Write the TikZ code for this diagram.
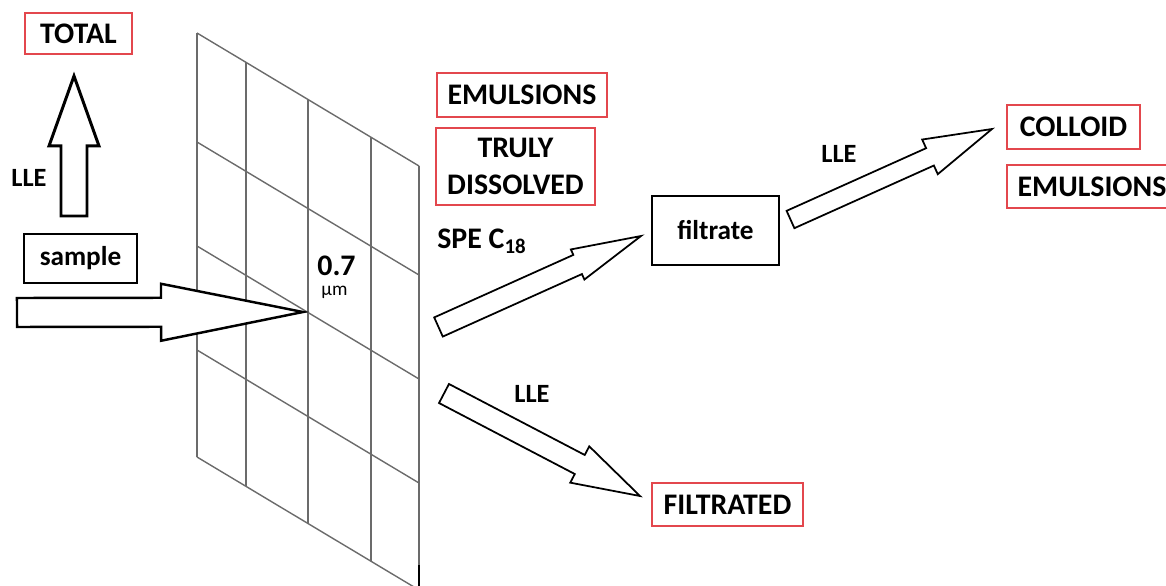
\documentclass[tikz,border=0pt]{standalone}
\usepackage{fontspec}
\setmainfont{Carlito}
\usetikzlibrary{calc}
\definecolor{boxred}{HTML}{E3474D}
\definecolor{gridgray}{HTML}{6B6B6B}
\newcommand{\bigfont}{\fontsize{17}{21}\selectfont\bfseries}
\newcommand{\lowfont}{\fontsize{15.5}{19}\selectfont\bfseries}
\newcommand{\midfont}{\fontsize{15}{18}\selectfont\bfseries}
\newcommand{\smallfont}{\fontsize{11}{13}\selectfont}
\tikzset{
  redbox/.style={draw=boxred, line width=0.8pt, inner sep=0pt, align=center, font=\bigfont},
  blackbox/.style={draw=black, line width=0.7pt, inner sep=0pt, font=\lowfont},
  lbl/.style={inner sep=0pt},
  gridline/.style={gridgray, line width=0.8pt},
  fatarrow/.style={draw=black, fill=white, line width=1pt, line join=miter},
}
% [style]{tail}{tip}{half shaft}{half head}{head length}
\newcommand{\blockarrow}[6][]{%
  \coordinate (ba-h) at ($(#3)!#6!(#2)$);
  \draw[fatarrow,#1] ($(#2)!#4!90:(#3)$) -- ($(ba-h)!#4!90:(#3)$) -- ($(ba-h)!#5!90:(#3)$) -- (#3)
    -- ($(ba-h)!#5!-90:(#3)$) -- ($(ba-h)!#4!-90:(#3)$) -- ($(#2)!#4!-90:(#3)$) -- cycle;
}

\begin{document}
\begin{tikzpicture}[x=0.02cm, y=-0.02cm]
\useasboundingbox (0,0) rectangle (1166,585);
\foreach \gx in {197,246,308,371,419}
\draw[gridline] (\gx,{33+0.6*(\gx-197)}) -- (\gx,{457+0.6*(\gx-197)});
\foreach \gy in {33,142,246,350,457}
\draw[gridline] (197,\gy) -- (419,{\gy+133});
\draw[line width=1pt] (419,565) -- (419,590);

\node[redbox, minimum width=2.14cm, minimum height=0.82cm] (total) at (78.5,33.5) {TOTAL};
\node[blackbox, minimum width=2.26cm, minimum height=0.98cm] (sample) at (80.5,258.5) {sample};
\node[lbl, font=\midfont] (lleup) at (29,178) {LLE};
\node[lbl, font=\bigfont, anchor=base] (pore) at (336.5,275) {0.7};
\node[lbl, font=\smallfont, anchor=base] (unit) at (334.5,295) {µm};

\node[redbox, minimum width=3.4cm, minimum height=0.88cm] (emul) at (522,95) {EMULSIONS};
\node[redbox, minimum width=3.18cm, minimum height=1.54cm] (truly) at (515.5,166.5) {TRULY\\DISSOLVED};
\node[lbl, font=\bigfont, anchor=base west] (spe) at (437,248.5) {SPE C\textsubscript{18}};
\node[blackbox, minimum width=2.54cm, minimum height=1.38cm] (filtrate) at (715.5,230.5) {filtrate};

\node[lbl, font=\midfont] (llecol) at (839,154) {LLE};
\node[redbox, minimum width=2.66cm, minimum height=0.88cm] (colloid) at (1073.5,127) {COLLOID};
\node[redbox, minimum width=3.4cm, minimum height=0.86cm] (emulb) at (1092,186.5) {EMULSIONS};

\node[lbl, font=\midfont] (llefil) at (532,394) {LLE};
\node[redbox, minimum width=3.02cm, minimum height=0.86cm] (filtrated) at (727.5,504.5) {FILTRATED};

\coordinate (upTail) at (74,216);
\coordinate (upTip) at (74,76);
\coordinate (inTail) at (17,312.5);
\coordinate (inTip) at (303,312);
\coordinate (speTail) at (438.5,327);
\coordinate (speTip) at (641,236);
\coordinate (colTail) at (790.5,219.5);
\coordinate (colTip) at (992,129);
\coordinate (filTail) at (444,393.5);
\coordinate (filTip) at (640,496);

\blockarrow[line width=1.7pt]{upTail}{upTip}{0.26cm}{0.5cm}{1.4cm}
\blockarrow[line width=1.4pt]{inTail}{inTip}{0.29cm}{0.57cm}{2.84cm}
\blockarrow{speTail}{speTip}{0.21cm}{0.33cm}{1.39cm}
\blockarrow{colTail}{colTip}{0.19cm}{0.38cm}{1.36cm}
\blockarrow{filTail}{filTip}{0.215cm}{0.41cm}{1.36cm}
\end{tikzpicture}
\end{document}
